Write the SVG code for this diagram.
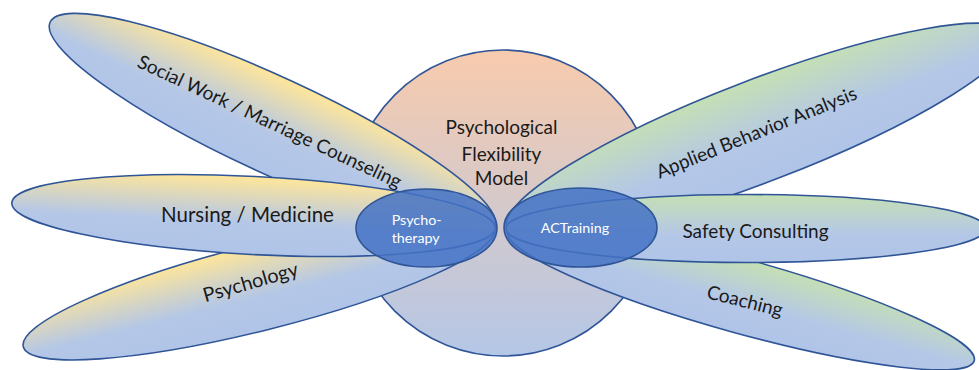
<svg xmlns="http://www.w3.org/2000/svg" width="979" height="370" viewBox="0 0 979 370">
<defs>
  <linearGradient id="gCircle" x1="0" y1="0" x2="0" y2="1">
    <stop offset="0" stop-color="#F8CBAD"/>
    <stop offset="1" stop-color="#B4C7E7"/>
  </linearGradient>
  <linearGradient id="gYellow" x1="0" y1="0" x2="0" y2="1">
    <stop offset="0" stop-color="#FFE699"/>
    <stop offset="0.6" stop-color="#B4C7E7"/>
    <stop offset="1" stop-color="#B0C4E8"/>
  </linearGradient>
  <linearGradient id="gGreen" x1="0" y1="0" x2="0" y2="1">
    <stop offset="0" stop-color="#C5E0B4"/>
    <stop offset="0.6" stop-color="#B4C7E7"/>
    <stop offset="1" stop-color="#B0C4E8"/>
  </linearGradient>
</defs>
<style>
  .outline { stroke: #2F5597; stroke-width: 1.6; }
  .petalL { fill: url(#gYellow); }
  .petalR { fill: url(#gGreen); }
  .hub { fill: #4472C4; fill-opacity: 0.85; stroke: #2F5597; stroke-width: 1.6; }
  .lbl { font-family: Lato, "Liberation Sans", sans-serif; font-size: 19px; fill: #1a1a1a; text-anchor: middle; }
  .ctr { font-family: Lato, "Liberation Sans", sans-serif; font-size: 19px; fill: #1a1a1a; text-anchor: middle; }
  .hubtxt { font-family: Lato, "Liberation Sans", sans-serif; font-size: 14.3px; fill: #ffffff; }
</style>

<g id="model">
  <circle cx="503" cy="203" r="153" fill="url(#gCircle)" class="outline"/>
  <text class="ctr" x="501.5" y="134">Psychological</text>
  <text class="ctr" x="501.5" y="160.5">Flexibility</text>
  <text class="ctr" x="501.5" y="185">Model</text>
</g>

<g id="social-work">
  <ellipse cx="0" cy="0" rx="245" ry="48" class="petalL outline" transform="translate(272.5,125) rotate(24.8)"/>
  <text class="lbl" x="0" y="5" transform="translate(269,123) rotate(25)">Social Work / Marriage Counseling</text>
</g>

<g id="psychology">
  <ellipse cx="0" cy="0" rx="243" ry="43" class="petalL outline" transform="translate(259,287.5) rotate(-14.1)"/>
  <text class="lbl" x="0" y="5" transform="translate(251,284) rotate(-16)" style="font-size:19.8px">Psychology</text>
</g>

<g id="nursing">
  <ellipse cx="0" cy="0" rx="242" ry="39" class="petalL outline" transform="translate(253.5,215.5) rotate(3)"/>
  <text class="lbl" x="247.5" y="222" style="font-size:20.5px">Nursing / Medicine</text>
</g>

<g id="aba">
  <ellipse cx="0" cy="0" rx="270" ry="51" class="petalR outline" transform="translate(759,131) rotate(-21)"/>
  <text class="lbl" x="0" y="5" transform="translate(757,134) rotate(-22)">Applied Behavior Analysis</text>
</g>

<g id="coaching">
  <ellipse cx="0" cy="0" rx="242" ry="37" class="petalR outline" transform="translate(741,296) rotate(15.5)"/>
  <text class="lbl" x="0" y="5" transform="translate(744.5,302.5) rotate(14)">Coaching</text>
</g>

<g id="safety">
  <ellipse cx="746" cy="228.5" rx="240" ry="34" class="petalR outline"/>
  <text class="lbl" x="755.5" y="238">Safety Consulting</text>
</g>

<g id="psychotherapy">
  <ellipse cx="426.5" cy="228" rx="70.5" ry="39" class="hub"/>
  <text class="hubtxt" x="391.7" y="225">Psycho-</text>
  <text class="hubtxt" x="391.7" y="243.3">therapy</text>
</g>

<g id="actraining">
  <ellipse cx="580.5" cy="227.5" rx="76.5" ry="39.5" class="hub"/>
  <text class="hubtxt" x="575" y="233.3" text-anchor="middle">ACTraining</text>
</g>
</svg>
